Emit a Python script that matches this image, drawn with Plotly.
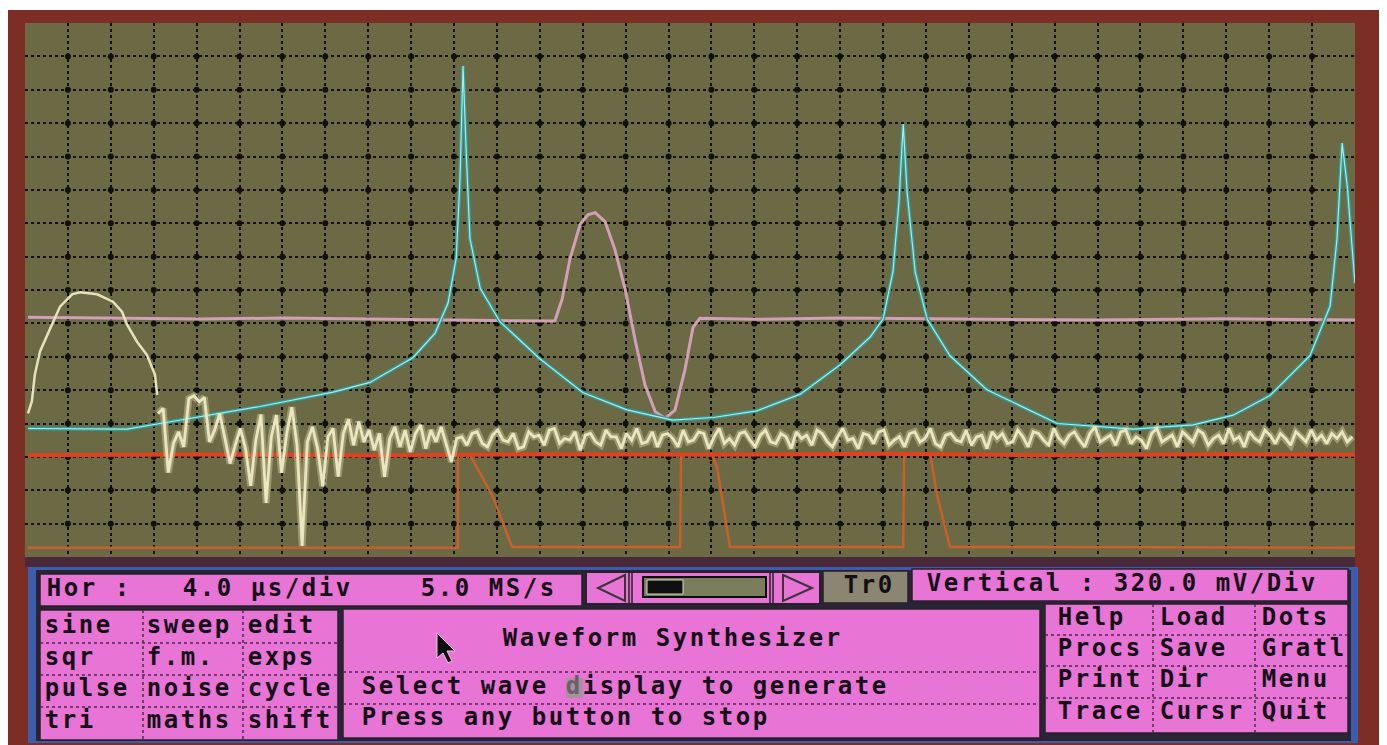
import numpy as np
import plotly.graph_objects as go

# reference image is 1387x745; the page body adds an 8px margin, so the figure
# is drawn 8px smaller and every layout pixel is shifted by OFF.
REF_W, REF_H = 1387, 745
OFF = 8
FW, FH = REF_W - OFF, REF_H - OFF

# ---------------- waveform data (screen divisions: x 4.0 us/div, y 320 mV/div) ----------------
cyan_x = [0.07, 2.38, 3.15, 4.43, 5.48, 7.18, 8.04, 9.04, 9.56, 9.86, 10.05, 10.14, 10.21, 10.28, 10.37,
          10.61, 11.07, 12.0, 13.0, 14.03, 15.1, 16.04, 17.06, 18.07, 19.0, 19.7, 20.0, 20.23, 20.37, 20.47,
          20.56, 20.75, 21.03, 21.56, 22.42, 24.06, 25.83, 27.23, 28.16, 29.02, 29.95, 30.42, 30.58, 30.70,
          30.82, 30.93, 31.0]
cyan_y = [3.85, 3.83, 4.0, 4.28, 4.51, 4.94, 5.23, 5.97, 6.71, 7.61, 8.95, 11.35, 14.71, 12.25, 9.55,
          8.05, 7.05, 5.94, 4.93, 4.41, 4.10, 4.18, 4.38, 4.88, 5.76, 6.59, 7.13, 8.54, 10.63, 12.97,
          10.93, 8.53, 7.12, 6.03, 5.01, 4.0, 3.83, 3.96, 4.25, 4.84, 6.03, 7.52, 9.53, 12.40,
          11.11, 9.31, 8.20]

mauve_x = [0.07, 2.0, 4.08, 6.0, 8.74, 10.5, 12.35, 12.52, 12.70, 12.94, 13.12, 13.29, 13.52, 13.75, 13.99,
           14.22, 14.45, 14.69, 14.92, 15.15, 15.38, 15.57, 15.73, 17.0, 19.0, 22.7, 25.0, 28.0, 31.0]
mauve_y = [7.18, 7.15, 7.13, 7.16, 7.11, 7.09, 7.07, 7.73, 8.92, 9.97, 10.25, 10.32, 10.05, 9.21, 8.01,
           6.51, 5.16, 4.35, 4.16, 4.40, 5.60, 6.88, 7.15, 7.12, 7.16, 7.13, 7.10, 7.14, 7.10]

cream_bump_x = [0.07, 0.16, 0.23, 0.35, 0.63, 0.82, 1.10, 1.28, 1.68, 2.05, 2.26, 2.38, 2.61, 2.84, 3.03, 3.08]
cream_bump_y = [4.30, 4.66, 5.47, 6.16, 6.97, 7.51, 7.87, 7.93, 7.87, 7.65, 7.35, 6.96, 6.45, 6.06, 5.46, 4.86]

noise_x0 = 3.10
noise_dx = 0.12
noise_y = [
    4.30, 4.45, 2.53, 3.40, 3.75, 3.30, 4.75, 4.83, 4.65, 4.78, 3.45, 3.80, 4.30, 3.55, 2.80, 3.35, 3.85, 3.25,
    2.13, 3.50, 4.27, 1.62, 3.60, 4.25, 2.52, 3.70, 4.49, 3.35, 0.33, 3.45, 3.90, 3.25, 2.12, 3.60, 3.85, 2.41,
    3.70, 4.13, 3.35, 4.06, 3.45, 3.80, 3.20, 3.70, 2.40, 3.55, 3.90, 3.30, 3.80, 3.15, 3.70, 3.95, 3.25, 3.80,
    3.45, 3.90, 3.35, 2.85,
    3.55, 3.60, 3.35, 3.70, 3.75, 3.40, 3.30, 3.65, 3.80, 3.50, 3.45, 3.70, 3.25, 3.30, 3.75, 3.60, 3.65, 3.35, 3.80, 3.85,
    3.40, 3.55, 3.50, 3.75, 3.20, 3.65, 3.70, 3.45, 3.35, 3.80, 3.60, 3.60, 3.25, 3.70, 3.50, 3.85, 3.40, 3.45, 3.75, 3.30,
    3.65, 3.70, 3.55, 3.30, 3.80, 3.45, 3.50, 3.75, 3.70, 3.25, 3.60, 3.85, 3.40, 3.55, 3.35, 3.70, 3.75, 3.50, 3.30, 3.65,
    3.80, 3.45, 3.40, 3.70, 3.60, 3.25, 3.75, 3.55, 3.65, 3.35, 3.80, 3.70, 3.45, 3.30, 3.60, 3.85, 3.50, 3.55, 3.25, 3.70,
    3.65, 3.40, 3.75, 3.80, 3.35, 3.50, 3.60, 3.30, 3.70, 3.75, 3.45, 3.55, 3.85, 3.40, 3.30, 3.65, 3.70, 3.50, 3.45, 3.80,
    3.35, 3.60, 3.65, 3.25, 3.75, 3.55, 3.70, 3.40, 3.45, 3.80, 3.60, 3.30, 3.75, 3.70, 3.50, 3.35, 3.85, 3.55, 3.40, 3.65,
    3.75, 3.50, 3.30, 3.70, 3.90, 3.45, 3.55, 3.65, 3.35, 3.75, 3.80, 3.40, 3.60, 3.50, 3.25, 3.70, 3.85, 3.45, 3.55, 3.65,
    3.30, 3.75, 3.60, 3.45, 3.80, 3.70, 3.35, 3.55, 3.65, 3.40, 3.85, 3.50, 3.60, 3.30, 3.75, 3.55, 3.45, 3.80, 3.65, 3.40,
    3.70, 3.55, 3.35, 3.75, 3.60, 3.45, 3.80, 3.50, 3.65, 3.40, 3.70, 3.55, 3.75, 3.45, 3.60,
]

red_x = [0.07, 4, 8, 12, 16, 20, 24, 28, 31]
red_y = [3.05, 3.07, 3.04, 3.08, 3.06, 3.09, 3.05, 3.08, 3.06]

pulse_x = [0.07, 10.09, 10.09, 10.37, 10.91, 11.35, 15.27, 15.29, 16.01, 16.13, 16.43, 20.47, 20.49, 21.1, 21.26, 21.56, 31.0]
pulse_y = [0.28, 0.28, 3.06, 3.06, 1.80, 0.30, 0.30, 3.06, 3.06, 2.70, 0.30, 0.30, 3.06, 3.06, 1.85, 0.30, 0.28]

# ---------------- panel text ----------------
hor_label = "Hor :   4.0 µs/div    5.0 MS/s"
trace_label = "Tr0"
vert_label = "Vertical : 320.0 mV/Div"
left_buttons = [["sine", "sweep", "edit"], ["sqr", "f.m.", "exps"],
                ["pulse", "noise", "cycle"], ["tri", "maths", "shift"]]
right_buttons = [["Help", "Load", "Dots"], ["Procs", "Save", "Gratl"],
                 ["Print", "Dir", "Menu"], ["Trace", "Cursr", "Quit"]]
title_text = "Waveform Synthesizer"
status_lines = ["Select wave display to generate", "Press any button to stop"]

# ---------------- layout geometry (reference pixels) ----------------
SX0, SX1, SY0, SY1 = 25, 1355, 23, 557      # scope screen
NX, NY = 31, 16                               # divisions
PINK = "#e874d6"
EDGE = "#2a1f2c"
DOT = "#4e2a4a"


def pxx(x):
    return (x - OFF) / FW


def pxy(y):
    return 1 - (y - OFF) / FH


shapes = []


def rect(x0, y0, x1, y1, fill, line=None, lw=0, layer="below"):
    shapes.append(dict(type="rect", xref="paper", yref="paper",
                       x0=pxx(x0), x1=pxx(x1), y0=pxy(y1), y1=pxy(y0),
                       fillcolor=fill, line=dict(color=line if line else fill, width=lw), layer=layer))


def seg(x0, y0, x1, y1, color, lw=1.5, dash="solid", layer="below"):
    shapes.append(dict(type="line", xref="paper", yref="paper",
                       x0=pxx(x0), x1=pxx(x1), y0=pxy(y0), y1=pxy(y1),
                       line=dict(color=color, width=lw, dash=dash), layer=layer))


def poly(points, fill, line, lw, layer="below"):
    path = "M " + " L ".join(f"{pxx(x):.5f},{pxy(y):.5f}" for x, y in points) + " Z"
    shapes.append(dict(type="path", xref="paper", yref="paper", path=path,
                       fillcolor=fill, line=dict(color=line, width=lw), layer=layer))


# frame and screen
rect(8, 10, 1380, 746, "#7c2e25")
rect(SX0, SY0, SX1, SY1, "#6c6a45")
rect(SX0, SY1, SX1, 567, "#4a2a3a")
# control panel
rect(28, 567, 1358, 743, "#3c5cae")
rect(36, 570, 1351, 741, "#2b2432")
rect(40, 574, 582, 606, PINK, EDGE, 1.5)
rect(586, 572, 820, 604, PINK, EDGE, 2)
rect(823, 571, 908, 603, "#8b8672", EDGE, 1.5)
rect(912, 569, 1348, 601, PINK, EDGE, 1.5)
rect(40, 610, 338, 740, PINK, EDGE, 1.5)
rect(343, 609, 1040, 738, PINK, EDGE, 1.5)
rect(1045, 604, 1348, 733, PINK, EDGE, 1.5)

for yy in (643, 675, 707):
    seg(40, yy, 338, yy, DOT, 1.5, "dot")
for xx in (143, 243):
    seg(xx, 610, xx, 740, DOT, 1.5, "dot")
for yy in (672, 704):
    seg(343, yy, 1040, yy, DOT, 1.5, "dot")
for yy in (635, 666, 698):
    seg(1045, yy, 1348, yy, DOT, 1.5, "dot")
for xx in (1153, 1255):
    seg(xx, 604, xx, 733, DOT, 1.5, "dot")

# slider
for xx in (629, 632, 770, 773):
    seg(xx, 572, xx, 604, EDGE, 1.5)
rect(643, 577, 766, 597, "#7b7e5c", "#0c0c0c", 2)
rect(647, 580, 683, 594, "#101010", "#d9d6c4", 1)
poly([(625, 575), (598, 588), (625, 601)], "rgba(0,0,0,0)", "#3a3438", 2)
poly([(783, 575), (812, 588), (783, 601)], "rgba(0,0,0,0)", "#3a3438", 2)

# text cursor block and mouse pointer
rect(566, 678, 583, 698, "#a5929e")
poly([(437, 633), (437, 658), (443, 653), (448, 663), (452, 661), (447, 651), (455, 651)],
     "#0e0e0e", "#f2c6ea", 1, layer="above")

# ---------------- per-character text ----------------
PITCH = 17
tx, ty, tt, tc = [], [], [], []


def add_text(s, x0, yc, dim=()):
    for i, ch in enumerate(s):
        if ch != " ":
            tx.append(x0 + PITCH * i + 7)
            ty.append(yc)
            tt.append(ch)
            tc.append("#6e5e6a" if i in dim else "#140f14")


add_text(hor_label, 47, 590)
add_text(trace_label, 844, 587)
add_text(vert_label, 927, 585)
for r, row in enumerate(left_buttons):
    for c, word in enumerate(row):
        add_text(word, [45, 147, 248][c], [627, 659, 690, 722][r])
for r, row in enumerate(right_buttons):
    for c, word in enumerate(row):
        add_text(word, [1058, 1160, 1262][c], [619, 650, 681, 713][r])
add_text(title_text, 503, 640)
add_text(status_lines[0], 362, 688, dim={12})
add_text(status_lines[1], 362, 719)

# ---------------- figure ----------------
fig = go.Figure()

gx, gy = np.meshgrid(np.arange(1, NX), np.arange(1, NY))
fig.add_trace(go.Scatter(x=gx.ravel(), y=gy.ravel(), mode="markers",
                         marker=dict(size=6, color="#10100c"), hoverinfo="skip"))

fig.add_trace(go.Scatter(x=pulse_x, y=pulse_y, mode="lines", line=dict(color="#c8602a", width=2.5)))
fig.add_trace(go.Scatter(x=red_x, y=red_y, mode="lines", line=dict(color="#e2401e", width=4)))
fig.add_trace(go.Scatter(x=mauve_x, y=mauve_y, mode="lines", line=dict(color="#d2a0b6", width=3)))
fig.add_trace(go.Scatter(x=cyan_x, y=cyan_y, mode="lines", line=dict(color="#2c9a98", width=4)))
fig.add_trace(go.Scatter(x=cyan_x, y=cyan_y, mode="lines", line=dict(color="#bfe6da", width=1.2)))

noise_x = noise_x0 + noise_dx * np.arange(len(noise_y))
fig.add_trace(go.Scatter(x=cream_bump_x, y=cream_bump_y, mode="lines",
                         line=dict(color="#e6e2bc", width=2.5)))
fig.add_trace(go.Scatter(x=noise_x, y=noise_y, mode="lines",
                         line=dict(color="rgba(226,220,170,0.4)", width=7)))
fig.add_trace(go.Scatter(x=noise_x, y=noise_y, mode="lines",
                         line=dict(color="#ebe6c2", width=2.8)))

fig.add_trace(go.Scatter(x=tx, y=ty, text=tt, mode="text", textposition="middle center",
                         textfont=dict(family="DejaVu Sans Mono", size=24, color=tc, weight="bold"),
                         xaxis="x2", yaxis="y2", hoverinfo="skip", cliponaxis=False))

fig.update_layout(
    width=FW, height=FH, margin=dict(l=0, r=0, t=0, b=0),
    paper_bgcolor="white", plot_bgcolor="rgba(0,0,0,0)", showlegend=False,
    shapes=shapes,
    xaxis=dict(domain=[pxx(SX0), pxx(SX1)], range=[0, NX], tickvals=list(range(1, NX)),
               showticklabels=False, ticks="", showgrid=True, gridcolor="#10100c", gridwidth=1.7,
               griddash="dot", zeroline=False, showline=False, fixedrange=True),
    yaxis=dict(domain=[pxy(SY1), pxy(SY0)], range=[0, NY], tickvals=list(range(1, NY)),
               showticklabels=False, ticks="", showgrid=True, gridcolor="#10100c", gridwidth=1.7,
               griddash="dot", zeroline=False, showline=False, fixedrange=True),
    xaxis2=dict(domain=[0, 1], range=[OFF, OFF + FW], visible=False, fixedrange=True, anchor="y2"),
    yaxis2=dict(domain=[0, 1], range=[OFF + FH, OFF], visible=False, fixedrange=True, anchor="x2"),
)

fig.write_html("out.html")
